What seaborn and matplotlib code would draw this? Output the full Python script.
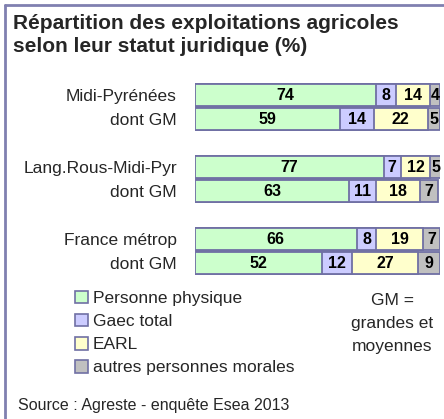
import matplotlib
matplotlib.use("Agg")
import matplotlib.pyplot as plt
import seaborn as sns
import numpy as np
import pandas as pd
from matplotlib.patches import Patch
from matplotlib.lines import Line2D

# ---- data ----
row_labels = ["Midi-Pyrénées", "dont GM", "Lang.Rous-Midi-Pyr", "dont GM", "France métrop", "dont GM"]
personne_physique = [74, 59, 77, 63, 66, 52]
gaec_total = [8, 14, 7, 11, 8, 12]
earl = [14, 22, 12, 18, 19, 27]
autres = [4, 5, 5, 7, 7, 9]
series_names = ["Personne physique", "Gaec total", "EARL", "autres personnes morales"]
colors = ["#CCFFCC", "#CCCCFF", "#FFFFCC", "#C0C0C0"]
edge = "#7070A4"

sns.set_theme(style="white")
plt.rcParams['font.family'] = ['Liberation Sans', 'DejaVu Sans']

row_ids = ["r0", "r1", "r2", "r3", "r4", "r5"]
order = ["r0", "r1", "s1", "r2", "r3", "s2", "r4", "r5"]

series = [personne_physique, gaec_total, earl, autres]
cums = np.cumsum(np.array(series), axis=0)

fig = plt.figure(figsize=(4.44, 4.19), dpi=100)
H = 419.0
W = 444.0
ax = fig.add_axes([195 / W, 1 - 275 / H, (440 - 195) / W, (275 - 83) / H])

# draw cumulative bars from longest to shortest so segments overlap
for k in range(3, -1, -1):
    df = pd.DataFrame({"row": row_ids, "value": cums[k]})
    sns.barplot(data=df, x="value", y="row", order=order, orient="h",
                color=colors[k], saturation=1, edgecolor=edge, linewidth=1.3,
                width=0.95, errorbar=None, ax=ax)

# value labels
pos = {r: order.index(r) for r in row_ids}
for k in range(4):
    for i, r in enumerate(row_ids):
        left = cums[k][i] - series[k][i]
        ax.text(left + series[k][i] / 2, pos[r], str(series[k][i]),
                ha="center", va="center", fontsize=11.5, fontweight="bold", color="black")

ax.set_xlim(0, 100)
ax.set_ylim(len(order) - 0.5, -0.5)
ax.set_xticks([])
ax.set_yticks([pos[r] for r in row_ids])
ax.set_yticklabels(row_labels, fontsize=12.5)
ax.tick_params(axis="y", length=0, pad=13)
ax.set_xlabel("")
ax.set_ylabel("")
for s in ax.spines.values():
    s.set_visible(False)

# title
fig.text(13 / W, 1 - 14 / H, "Répartition des exploitations agricoles\nselon leur statut juridique (%)",
         ha="left", va="top", fontsize=15, fontweight="bold", linespacing=1.28)

# legend
handles = [Patch(facecolor=c, edgecolor=edge, linewidth=1.2, label=n) for c, n in zip(colors, series_names)]
fig.legend(handles=handles, loc="upper left", bbox_to_anchor=(75 / W, 1 - 291 / H),
           frameon=False, fontsize=12.5, borderpad=0, labelspacing=0.45,
           handlelength=0.72, handleheight=0.72, handletextpad=0.3, borderaxespad=0)

fig.text(392 / W, 1 - 293 / H, "GM =\ngrandes et\nmoyennes", ha="center", va="top",
         fontsize=12.5, linespacing=1.65)

fig.text(18 / W, 1 - 405 / H, "Source : Agreste - enquête Esea 2013", ha="left", va="center", fontsize=11.5)

# frame (top and left)
fig.add_artist(Line2D([5 / W, 1], [1 - 5 / H, 1 - 5 / H], color="#8080B0", linewidth=2, transform=fig.transFigure))
fig.add_artist(Line2D([5 / W, 5 / W], [0, 1 - 5 / H], color="#8080B0", linewidth=2, transform=fig.transFigure))

fig.savefig("out.png", dpi=100)
